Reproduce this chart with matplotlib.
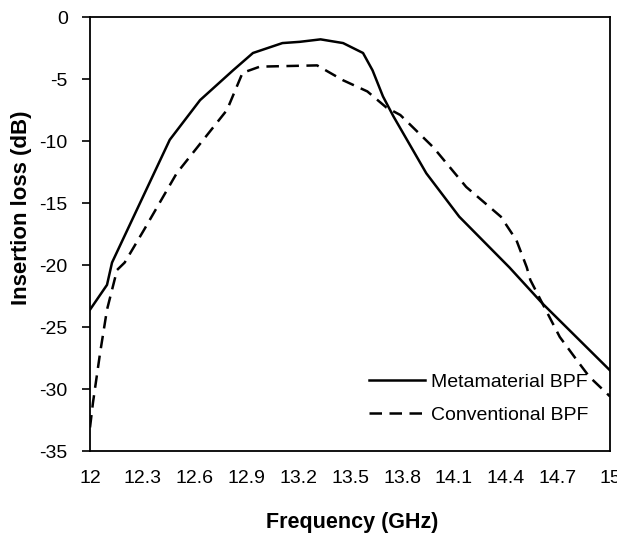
import numpy as np
import matplotlib
matplotlib.use('Agg')
from matplotlib import pyplot as plt

plt.rcParams['font.family'] = ['Liberation Sans', 'DejaVu Sans']
plt.rcParams['axes.unicode_minus'] = False

# Metamaterial BPF (solid)
meta_f = [12.0, 12.098, 12.127, 12.46, 12.635, 12.825, 12.94, 13.11, 13.21, 13.33,
          13.46, 13.575, 13.63, 13.69, 13.75, 13.94, 14.13, 14.42, 14.61, 15.0]
meta_db = [-23.6, -21.6, -19.8, -9.9, -6.7, -4.3, -2.9, -2.1, -2.0, -1.8,
           -2.1, -2.9, -4.3, -6.4, -8.0, -12.6, -16.1, -20.2, -23.1, -28.5]

# Conventional BPF (dashed)
conv_f = [12.0, 12.017, 12.058, 12.098, 12.156, 12.2, 12.31, 12.5, 12.79, 12.88,
          12.98, 13.31, 13.46, 13.6, 13.71, 13.79, 13.98, 14.17, 14.37, 14.46,
          14.52, 14.54, 14.61, 14.71, 14.81, 14.88, 15.0]
conv_db = [-33.1, -31.1, -27.1, -23.6, -20.4, -19.8, -17.2, -12.6, -7.5, -4.5,
           -4.0, -3.9, -5.1, -6.0, -7.3, -7.9, -10.5, -13.7, -16.1, -18.0,
           -20.2, -21.2, -23.1, -25.8, -27.7, -29.0, -30.6]

xticks = [12, 12.3, 12.6, 12.9, 13.2, 13.5, 13.8, 14.1, 14.4, 14.7, 15]
xticklabels = ['12', '12.3', '12.6', '12.9', '13.2', '13.5', '13.8', '14.1', '14.4', '14.7', '15']
yticks = [0, -5, -10, -15, -20, -25, -30, -35]

fig = plt.figure(figsize=(6.17, 5.34), dpi=100)
ax = fig.add_axes([0.1459, 0.1554, 0.8428, 0.8127])

ax.plot(meta_f, meta_db, color='black', lw=1.8, label='Metamaterial BPF')
ax.plot(conv_f, conv_db, color='black', lw=1.8, dashes=(5, 3), label='Conventional BPF')

ax.set_xlim(12, 15)
ax.set_ylim(-35, 0)
ax.set_xticks(xticks)
ax.set_xticklabels(xticklabels)
ax.set_yticks(yticks)
ax.tick_params(axis='x', length=0, pad=14, labelsize=14)
ax.tick_params(axis='y', length=6, width=1.2, pad=10, labelsize=14)
for s in ax.spines.values():
    s.set_linewidth(1.3)

ax.set_xlabel('Frequency (GHz)', fontsize=15.5, fontweight='bold', va='top')
ax.xaxis.set_label_coords(0.504, -0.14)
ax.set_ylabel('Insertion loss (dB)', fontsize=16, fontweight='bold',
              ha='center', va='center', rotation_mode='default')
ax.yaxis.set_label_coords(-0.131, 0.56)

ax.legend(loc='lower left', bbox_to_anchor=(0.518, 0.04), frameon=False,
          fontsize=14, handlelength=2.9, handletextpad=0.3, borderpad=0,
          labelspacing=0.8)

fig.savefig('out.png', dpi=100)
